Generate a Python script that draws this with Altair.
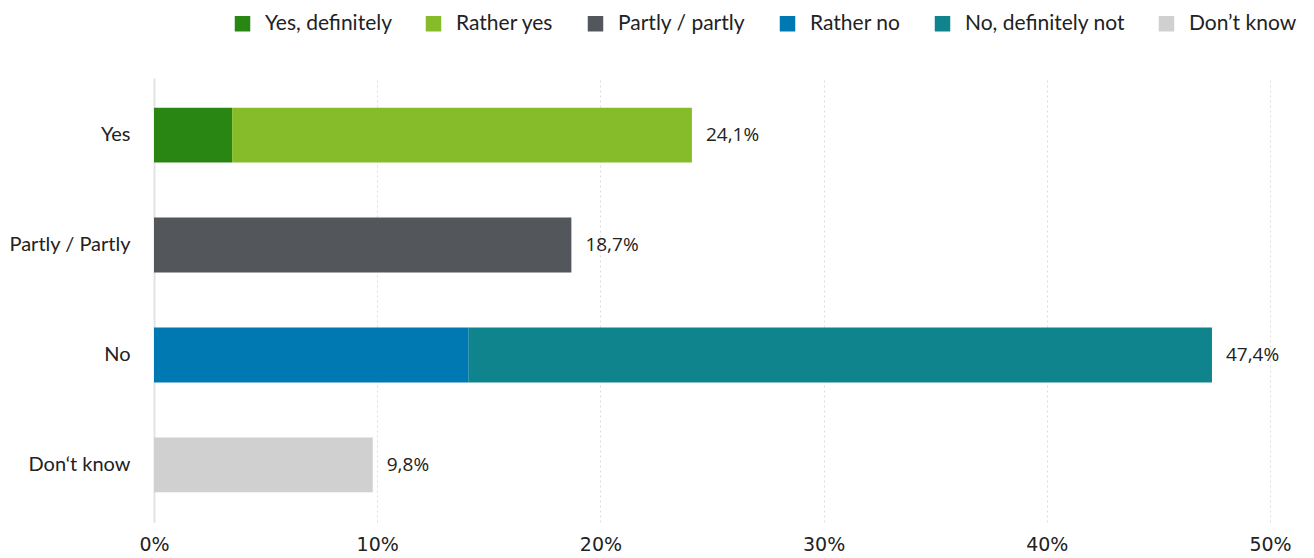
import altair as alt
import pandas as pd

categories = ["Yes", "Partly / Partly", "No", "Don\u2018t know"]
segments = ["Yes, definitely", "Rather yes", "Partly / partly", "Rather no", "No, definitely not", "Don\u2019t know"]
seg_category = ["Yes", "Yes", "Partly / Partly", "No", "No", "Don\u2018t know"]
seg_values = [3.5, 20.6, 18.7, 14.1, 33.3, 9.8]
totals = [24.1, 18.7, 47.4, 9.8]
total_labels = ["24,1%", "18,7%", "47,4%", "9,8%"]
colors = ["#2a8613", "#86bc29", "#53565a", "#0079b2", "#10848c", "#d0d0d0"]

df = pd.DataFrame({
    "category": seg_category,
    "segment": segments,
    "value": seg_values,
    "order": list(range(len(segments))),
})
tot = pd.DataFrame({"category": categories, "total": totals, "label": total_labels})

yenc = alt.Y("category:N", sort=categories, title=None,
             scale=alt.Scale(paddingInner=0.5, paddingOuter=0.27),
             axis=alt.Axis(labelFont="Lato", labelFontSize=20, labelColor="#222",
                           labelPadding=24, ticks=False, domain=True,
                           domainColor="#e3e3e3", domainWidth=2, grid=False))

bars = alt.Chart(df).mark_bar().encode(
    x=alt.X("value:Q", stack="zero", title=None,
            scale=alt.Scale(domain=[0, 50], nice=False),
            axis=alt.Axis(values=[0, 10, 20, 30, 40, 50], labelExpr="datum.value + '%'",
                          labelFont="DejaVu Sans", labelFontSize=19, labelColor="#222",
                          labelPadding=13, labelFlush=False, ticks=False, domain=False,
                          grid=True, gridColor="#dcdcdc", gridDash=[2, 3], gridWidth=1)),
    y=yenc,
    color=alt.Color("segment:N", sort=segments,
                    scale=alt.Scale(domain=segments, range=colors),
                    legend=alt.Legend(title=None, orient="none", direction="horizontal",
                                      legendX=78, legendY=-65,
                                      symbolType="square", symbolSize=240,
                                      symbolStrokeWidth=0, symbolOpacity=1,
                                      labelFont="Lato", labelFontSize=21, labelColor="#222",
                                      columnPadding=31, labelOffset=12, labelLimit=300)),
    order=alt.Order("order:Q"),
)

labels = alt.Chart(tot).mark_text(align="left", baseline="middle", dx=14,
                                  font="Open Sans", fontSize=19, color="#222").encode(
    x=alt.X("total:Q"),
    y=alt.Y("category:N", sort=categories),
    text="label:N",
)

chart = alt.layer(bars, labels).properties(
    width=1116, height=444,
    autosize=alt.AutoSizeParams(type="none"),
    padding={"left": 154, "top": 78, "right": 44, "bottom": 36},
).configure_view(stroke=None)

chart.save("out.html", embed_options={"renderer": "svg", "actions": False})
